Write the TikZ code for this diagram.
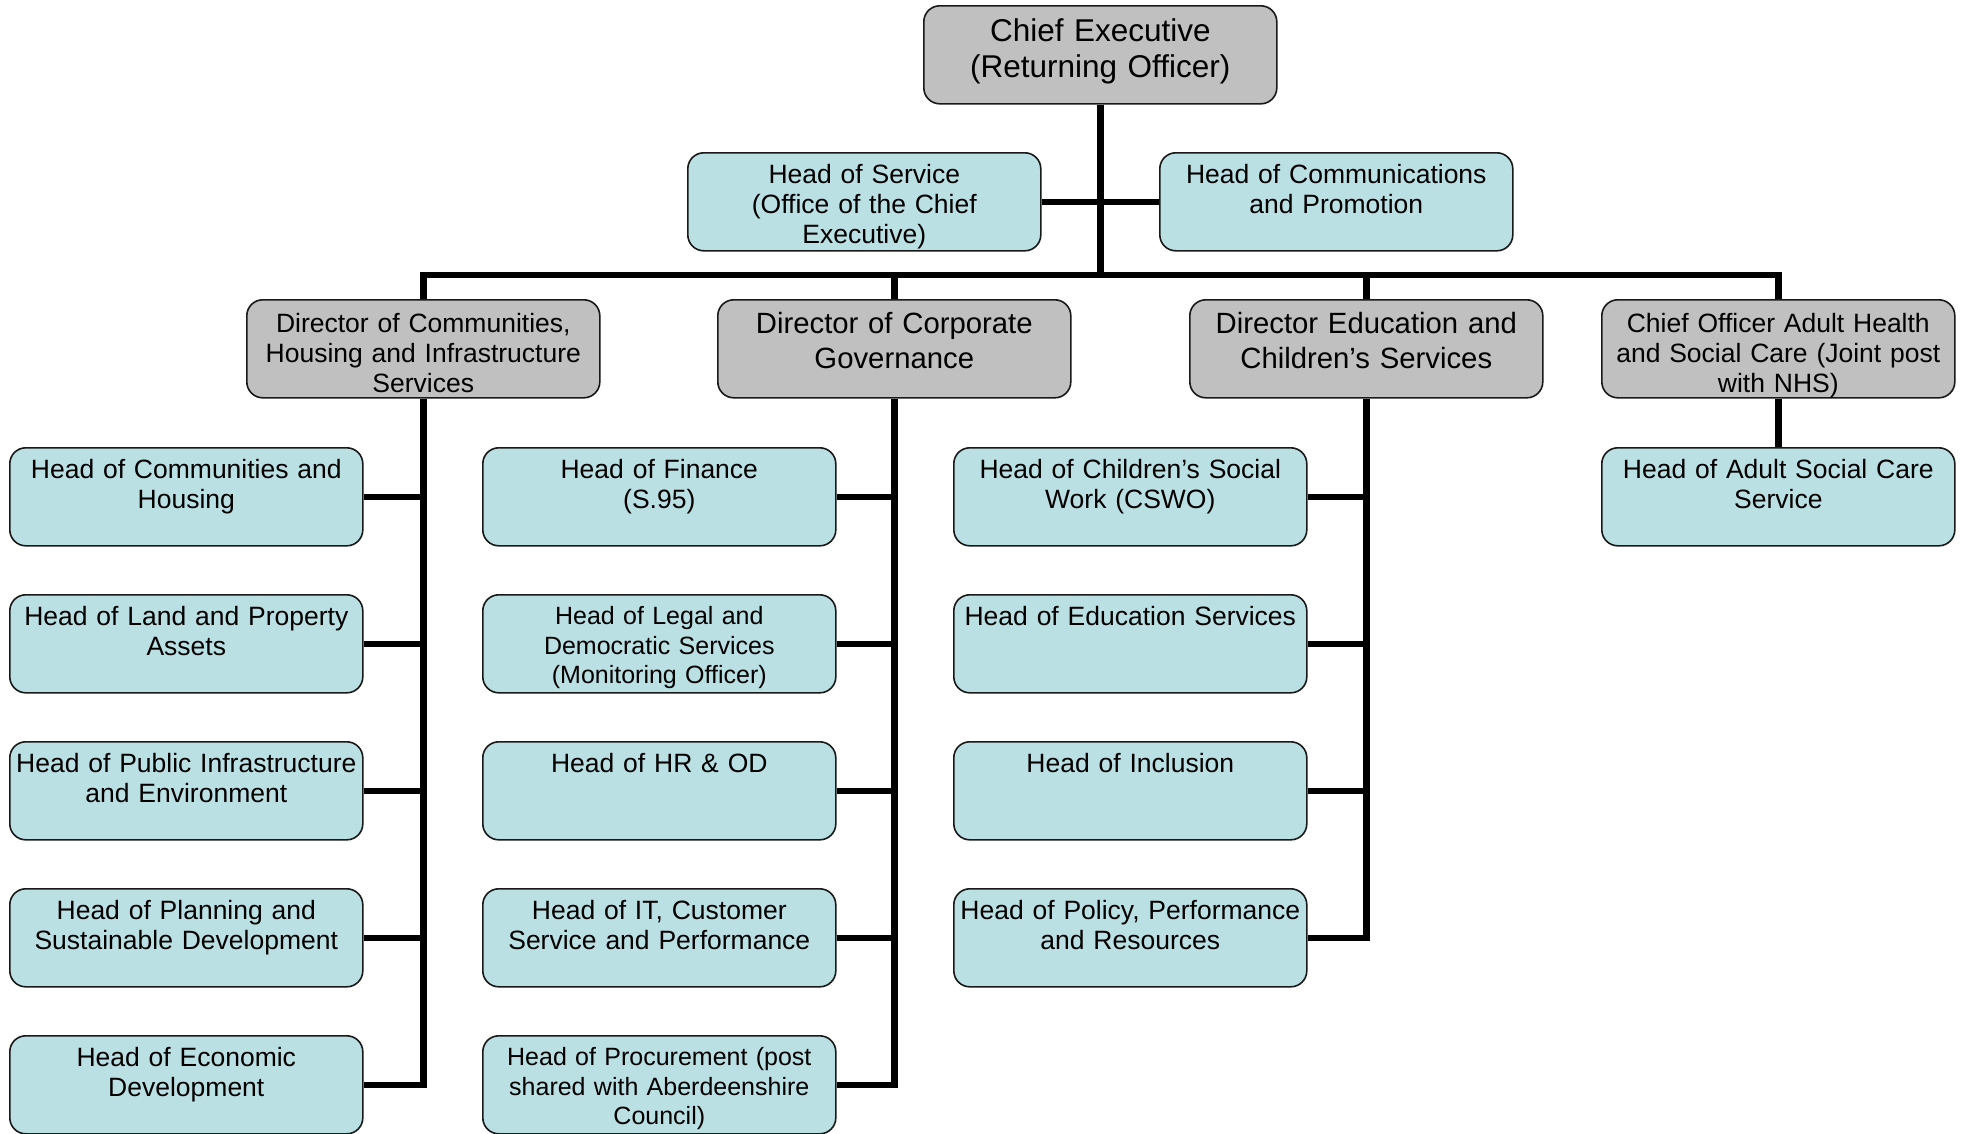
\documentclass[tikz,border=0pt]{standalone}
\usepackage{fontspec}
\setmainfont{Liberation Sans}
\usetikzlibrary{calc}
\definecolor{headfill}{RGB}{186,224,228}
\definecolor{dirfill}{RGB}{192,192,192}
\definecolor{edge}{RGB}{25,25,25}
\begin{document}
\begin{tikzpicture}[x=1pt,y=-1pt,
  box/.style={draw=edge, line width=1.6pt, rounded corners=16pt, minimum width=353pt, minimum height=98pt, inner sep=0pt, anchor=north west},
  headbox/.style={box, fill=headfill},
  dirbox/.style={box, fill=dirfill},
  txt/.style={text width=352pt, align=center, inner sep=0pt, anchor=base, font=\fontsize{26.5}{30}\selectfont},
  txtsm/.style={txt, font=\fontsize{25}{29.5}\selectfont},
  txtbig/.style={txt, font=\fontsize{29.3}{35}\selectfont},
  txtchief/.style={txt, font=\fontsize{31.5}{36}\selectfont},
  conn/.style={line width=6.5pt, draw=black}
]
\useasboundingbox[fill=white] (0,0) rectangle (1966,1133);

% boxes
\node[dirbox] (chief) at (923,5) {};
\node[headbox] (hos) at (687,152) {};
\node[headbox] (hcp) at (1159,152) {};

\node[dirbox] (dcomm) at (246,299) {};
\node[dirbox] (dcorp) at (717,299) {};
\node[dirbox] (dedu) at (1189,299) {};
\node[dirbox] (dcoff) at (1601,299) {};

\foreach \r/\y in {1/447,2/594,3/741,4/888,5/1035}{
  \node[headbox] (c1\r) at (9,\y) {};
  \node[headbox] (c2\r) at (482,\y) {};
}
\foreach \r/\y in {1/447,2/594,3/741,4/888}{
  \node[headbox] (c3\r) at (953,\y) {};
}
\node[headbox] (c41) at (1601,447) {};

% connectors
\coordinate (bar) at (1100,275);
\draw[conn] (chief.south) -- (chief.south |- bar);
\draw[conn] (hos.east) -- (hcp.west);
\draw[conn] (dcomm.north) -- (dcomm.north |- bar) -- (dcoff.north |- bar) -- (dcoff.north);
\draw[conn] (dcorp.north) -- (dcorp.north |- bar);
\draw[conn] (dedu.north) -- (dedu.north |- bar);

\draw[conn] (dcomm.south) |- (c15.east);
\foreach \r in {1,2,3,4}{\draw[conn] (c1\r.east) -- (c1\r.east -| dcomm.south);}
\draw[conn] (dcorp.south) |- (c25.east);
\foreach \r in {1,2,3,4}{\draw[conn] (c2\r.east) -- (c2\r.east -| dcorp.south);}
\draw[conn] (dedu.south) |- (c34.east);
\foreach \r in {1,2,3}{\draw[conn] (c3\r.east) -- (c3\r.east -| dedu.south);}
\draw[conn] (dcoff.south) -- (c41.north);

% texts
\node[txtchief] (tchief) at ($(chief.north)+(0,36)$) {Chief Executive\\(Returning Officer)};
\node[txt] (thos) at ($(hos.north)+(0,31)$) {Head of Service\\(Office of the Chief\\Executive)};
\node[txt] (thcp) at ($(hcp.north)+(0,31)$) {Head of Communications\\and Promotion};

\node[txt] (tdcomm) at ($(dcomm.north)+(0,33)$) {Director of Communities,\\Housing and Infrastructure\\Services};
\node[txtbig] (tdcorp) at ($(dcorp.north)+(0,34)$) {Director of Corporate\\Governance};
\node[txtbig] (tdedu) at ($(dedu.north)+(0,34)$) {Director Education and\\Children’s Services};
\node[txt] (tdcoff) at ($(dcoff.north)+(0,33)$) {Chief Officer Adult Health\\and Social Care (Joint post\\with NHS)};

\node[txt] (t11) at ($(c11.north)+(0,31.5)$) {Head of Communities and\\Housing};
\node[txt] (t12) at ($(c12.north)+(0,31.5)$) {Head of Land and Property\\Assets};
\node[txt] (t13) at ($(c13.north)+(0,31.5)$) {Head of Public Infrastructure\\and Environment};
\node[txt] (t14) at ($(c14.north)+(0,31.5)$) {Head of Planning and\\Sustainable Development};
\node[txt] (t15) at ($(c15.north)+(0,31.5)$) {Head of Economic\\Development};

\node[txt] (t21) at ($(c21.north)+(0,31.5)$) {Head of Finance\\(S.95)};
\node[txtsm] (t22) at ($(c22.north)+(0,30.5)$) {Head of Legal and\\Democratic Services\\(Monitoring Officer)};
\node[txt] (t23) at ($(c23.north)+(0,31.5)$) {Head of HR \& OD};
\node[txt] (t24) at ($(c24.north)+(0,31.5)$) {Head of IT, Customer\\Service and Performance};
\node[txtsm] (t25) at ($(c25.north)+(0,30.5)$) {Head of Procurement (post\\shared with Aberdeenshire\\Council)};

\node[txt] (t31) at ($(c31.north)+(0,31.5)$) {Head of Children’s Social\\Work (CSWO)};
\node[txt] (t32) at ($(c32.north)+(0,31.5)$) {Head of Education Services};
\node[txt] (t33) at ($(c33.north)+(0,31.5)$) {Head of Inclusion};
\node[txt] (t34) at ($(c34.north)+(0,31.5)$) {Head of Policy, Performance\\and Resources};

\node[txt] (t41) at ($(c41.north)+(0,31.5)$) {Head of Adult Social Care\\Service};
\end{tikzpicture}
\end{document}
